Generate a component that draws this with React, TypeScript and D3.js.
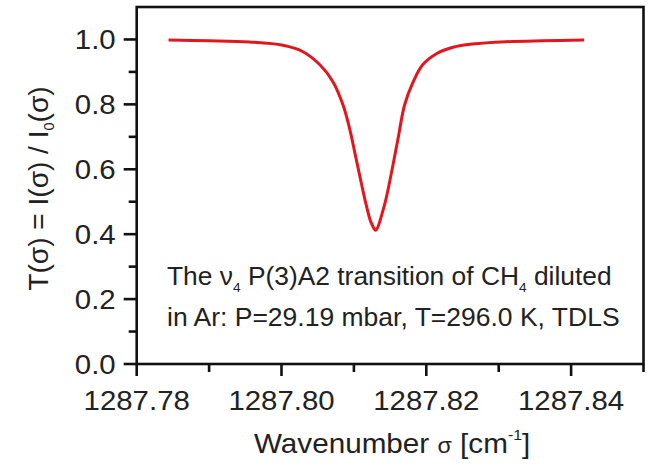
import React, { useRef, useEffect } from 'react';
import * as d3 from 'd3';

// values
const wavenumber = [
  1287.7844, 1287.7901, 1287.7956, 1287.8002, 1287.8029, 1287.8053, 1287.8071,
  1287.8085, 1287.8094, 1287.8101, 1287.8108, 1287.8115, 1287.8122, 1287.8126,
  1287.8130, 1287.8142, 1287.8152, 1287.8161, 1287.8170, 1287.8182, 1287.8195,
  1287.8214, 1287.8237, 1287.8264, 1287.8310, 1287.8360, 1287.8418,
];
const transmission = [
  0.998, 0.996, 0.992, 0.982, 0.963, 0.922, 0.870,
  0.798, 0.726, 0.654, 0.581, 0.509, 0.447, 0.425,
  0.412, 0.488, 0.591, 0.695, 0.798, 0.870, 0.922,
  0.956, 0.976, 0.986, 0.993, 0.996, 0.998,
];
const xTicks = [1287.78, 1287.80, 1287.82, 1287.84];
const xMinor = [1287.79, 1287.81, 1287.83, 1287.85];
const yTicks = [0.0, 0.2, 0.4, 0.6, 0.8, 1.0];
const yMinor = [0.1, 0.3, 0.5, 0.7, 0.9];

const FONT = "'Liberation Sans', Arial, sans-serif";
const INK = '#222';

function drawChart(node: SVGSVGElement) {
  const width = 652, height = 469;
  const margin = { top: 7, right: 8.5, bottom: 105, left: 136.7 };

  const svg = d3.select(node);
  svg.selectAll('*').remove();
  svg.attr('width', width).attr('height', height);

  const x = d3.scaleLinear()
              .domain([1287.78, 1287.85])
              .range([margin.left, width - margin.right]);
  const y = d3.scaleLinear()
              .domain([0, 1.1])
              .range([height - margin.bottom, margin.top]);

  const [x0, x1] = x.range();
  const [y0, y1] = y.range();

  // frame
  svg.append('rect')
     .attr('x', x0).attr('y', y1)
     .attr('width', x1 - x0).attr('height', y0 - y1)
     .attr('fill', 'none')
     .attr('stroke', '#111')
     .attr('stroke-width', 2.6);

  // x ticks
  const gx = svg.append('g').attr('stroke', '#111').attr('stroke-width', 2.6);
  gx.selectAll('line.major').data(xTicks).join('line')
    .attr('class', 'major')
    .attr('x1', d => x(d)).attr('x2', d => x(d))
    .attr('y1', y0).attr('y2', y0 + 12);
  gx.selectAll('line.minor').data(xMinor).join('line')
    .attr('class', 'minor')
    .attr('x1', d => x(d)).attr('x2', d => x(d))
    .attr('y1', y0).attr('y2', y0 + 8);

  svg.selectAll('text.xtick').data(xTicks).join('text')
     .attr('class', 'xtick')
     .attr('transform', d => `translate(${x(d)},${y0 + 46}) scale(1.05,1)`)
     .attr('text-anchor', 'middle')
     .attr('font-family', FONT)
     .attr('font-size', 28)
     .attr('fill', INK)
     .text(d => d3.format('.2f')(d));

  // y ticks
  const gy = svg.append('g').attr('stroke', '#111').attr('stroke-width', 2.6);
  gy.selectAll('line.major').data(yTicks).join('line')
    .attr('class', 'major')
    .attr('x1', x0).attr('x2', x0 - 13)
    .attr('y1', d => y(d)).attr('y2', d => y(d));
  gy.selectAll('line.minor').data(yMinor).join('line')
    .attr('class', 'minor')
    .attr('x1', x0).attr('x2', x0 - 8)
    .attr('y1', d => y(d)).attr('y2', d => y(d));

  svg.selectAll('text.ytick').data(yTicks).join('text')
     .attr('class', 'ytick')
     .attr('transform', d => `translate(${x0 - 21},${y(d) + 10}) scale(1.05,1)`)
     .attr('text-anchor', 'end')
     .attr('font-family', FONT)
     .attr('font-size', 28)
     .attr('fill', INK)
     .text(d => d3.format('.1f')(d));

  // curve
  const pts: [number, number][] = wavenumber.map((w, i) => [w, transmission[i]]);
  const line = d3.line<[number, number]>()
                 .x(d => x(d[0]))
                 .y(d => y(d[1]))
                 .curve(d3.curveCatmullRom.alpha(0.5));
  svg.append('path')
     .datum(pts)
     .attr('d', line)
     .attr('fill', 'none')
     .attr('stroke', '#e3161e')
     .attr('stroke-width', 3)
     .attr('stroke-linejoin', 'round');

  // x title
  const xt = svg.append('text')
                .attr('transform', `translate(${(x0 + x1) / 2 + 2},453) scale(1.06,1)`)
                .attr('text-anchor', 'middle')
                .attr('font-family', FONT)
                .attr('font-size', 28)
                .attr('fill', INK);
  xt.append('tspan').text('Wavenumber ');
  xt.append('tspan').attr('font-size', 22).text('σ');
  xt.append('tspan').text(' [cm');
  xt.append('tspan').attr('font-size', 15).attr('dy', -13).text('-1');
  xt.append('tspan').attr('dy', 13).text(']');

  // y title
  const yt = svg.append('text')
                .attr('transform', `translate(48,${(y0 + y1) / 2 + 3}) rotate(-90) scale(1.04,1)`)
                .attr('text-anchor', 'middle')
                .attr('font-family', FONT)
                .attr('font-size', 27)
                .attr('fill', INK);
  yt.append('tspan').text('T(σ) = I(σ) / I');
  yt.append('tspan').attr('font-size', 14).attr('dy', 6).text('0');
  yt.append('tspan').attr('dy', -6).text('(σ)');

  // annotation
  const ann = svg.append('g')
                 .attr('font-family', FONT)
                 .attr('font-size', 25)
                 .attr('fill', INK);
  const l1 = ann.append('text')
                .attr('transform', `translate(167,285) scale(1.055,1)`);
  l1.append('tspan').text('The ν');
  l1.append('tspan').attr('font-size', 13).attr('dy', 7).text('4');
  l1.append('tspan').attr('dy', -7).text(' P(3)A2 transition of CH');
  l1.append('tspan').attr('font-size', 13).attr('dy', 7).text('4');
  l1.append('tspan').attr('dy', -7).text(' diluted');
  ann.append('text')
     .attr('transform', `translate(167,326) scale(1.06,1)`)
     .text('in Ar: P=29.19 mbar, T=296.0 K, TDLS');
}

export default function App() {
  const ref = useRef<SVGSVGElement>(null);
  useEffect(() => {
    if (ref.current) drawChart(ref.current);
  }, []);
  return (
    <div style={{ position: 'absolute', left: 0, top: 0, background: '#fff' }}>
      <svg ref={ref}></svg>
    </div>
  );
}
